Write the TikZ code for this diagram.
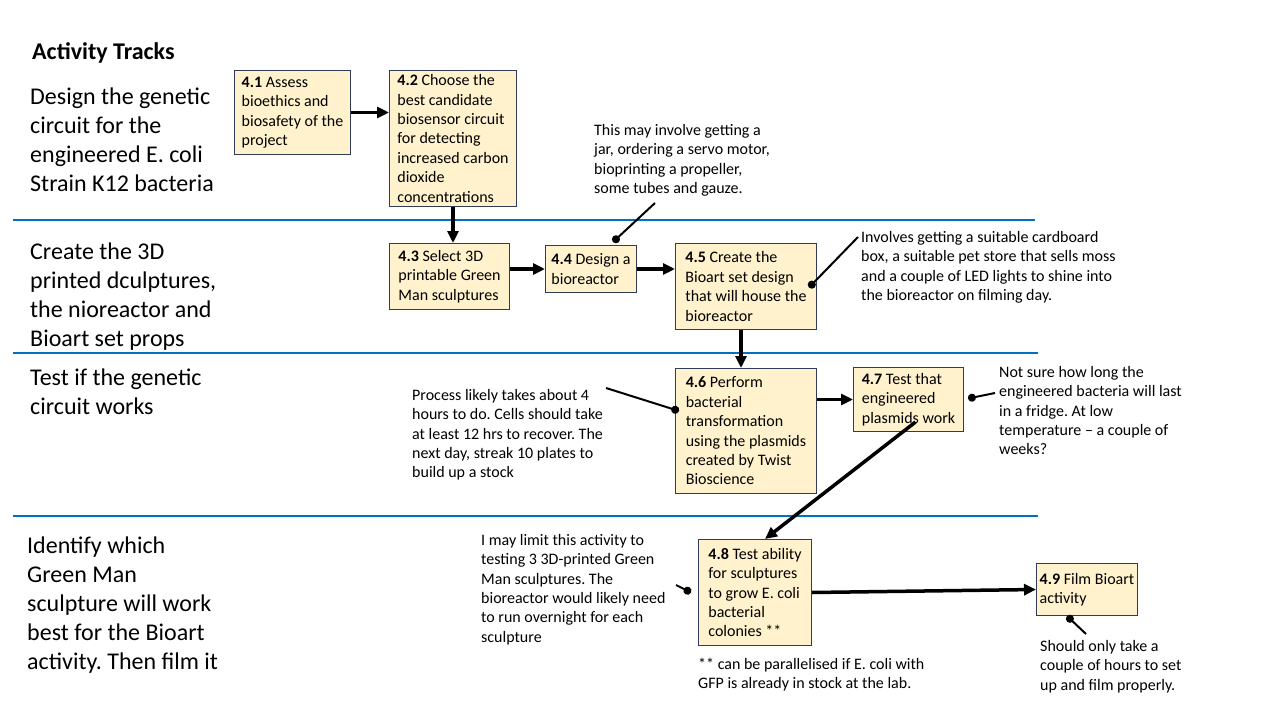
\documentclass[tikz,border=0pt]{standalone}
\usepackage{fontspec}
\setmainfont{Carlito}
\usepackage{xcolor}
\usepackage{tikz}
\usetikzlibrary{calc}
\usetikzlibrary{arrows.meta}
\usetikzlibrary{positioning}

\definecolor{boxfill}{HTML}{FFF2CC}
\definecolor{boxline}{HTML}{2F3B57}
\definecolor{trackline}{HTML}{0070C0}

\newcommand{\smallfont}{\fontsize{16}{19.4}\selectfont}
\newcommand{\trackfont}{\fontsize{24}{29}\selectfont}
\newcommand{\headfont}{\fontsize{24}{28}\selectfont\bfseries}
\frenchspacing

\begin{document}
\begin{tikzpicture}[
    x=1pt, y=-1pt,
    task/.style={draw=boxline, fill=boxfill, line width=1pt, align=left,
        anchor=north west, inner xsep=2pt, inner ysep=0pt, font=\smallfont},
    note/.style={align=left, anchor=north west, inner sep=0pt, font=\smallfont},
    track/.style={align=left, anchor=north west, inner sep=0pt, font=\trackfont},
    heading/.style={anchor=west, inner sep=0pt, font=\headfont},
    flow/.style={line width=3.5pt, -{Triangle[length=12pt,width=11pt]}},
    callout/.style={line width=2pt, {Circle[length=8pt]}-},
    divider/.style={line width=2.5pt, trackline}
]

    % Page
    \useasboundingbox (0,0) rectangle (1280,720);

    % Track dividers
    \draw[divider] (13,220) -- (1035,220);
    \draw[divider] (13,353) -- (1038,353);
    \draw[divider] (13,516) -- (1038,516);

    % Track labels
    \node[heading] (title) at (32,53) {Activity Tracks};
    \node[track] (t1) at (30,88) {Design the genetic\\circuit for the\\engineered E. coli\\Strain K12 bacteria};
    \node[track] (t2) at (30,243) {Create the 3D\\printed dculptures,\\the nioreactor and\\Bioart set props};
    \node[track] (t3) at (30,369) {Test if the genetic\\circuit works};
    \node[track] (t4) at (27,537) {Identify which\\Green Man\\sculpture will work\\best for the Bioart\\activity. Then film it};

    % Tasks
    \node[task, minimum width=116, minimum height=84] (b41) at (234,70)
        {\textbf{4.1} Assess\\bioethics and\\biosafety of the\\project};
    \node[task, minimum width=127, minimum height=136] (b42) at (389,70)
        {\textbf{4.2} Choose the\\best candidate\\biosensor circuit\\for detecting\\increased carbon\\dioxide\\concentrations};
    \node[task, minimum width=120, minimum height=66] (b43) at (389,243)
        {\textbf{4.3} Select 3D\\printable Green\\Man sculptures};
    \node[task, minimum width=91, minimum height=47] (b44) at (545,245)
        {\textbf{4.4} Design a\\bioreactor};
    \node[task, minimum width=141, minimum height=86] (b45) at (675,243)
        {\textbf{4.5} Create the\\Bioart set design\\that will house the\\bioreactor};
    \node[task, minimum width=141, minimum height=125] (b46) at (675,368)
        {\textbf{4.6} Perform\\bacterial\\transformation\\using the plasmids\\created by Twist\\Bioscience};
    \node[task, minimum width=110, minimum height=64] (b47) at (853,367)
        {\textbf{4.7} Test that\\engineered\\plasmids work};
    \node[task, minimum width=113, minimum height=106] (b48) at (698,539)
        {\textbf{4.8} Test ability\\for sculptures\\to grow E. coli\\bacterial\\colonies **};
    \node[task, minimum width=101, minimum height=52] (b49) at (1036,563)
        {\textbf{4.9} Film Bioart\\activity};

    % Notes
    \node[note] (n44) at (594,124) {This may involve getting a\\jar, ordering a servo motor,\\bioprinting a propeller,\\some tubes and gauze.};
    \node[note] (n45) at (861,231) {Involves getting a suitable cardboard\\box, a suitable pet store that sells moss\\and a couple of LED lights to shine into\\the bioreactor on filming day.};
    \node[note] (n46) at (412,389) {Process likely takes about 4\\hours to do. Cells should take\\at least 12 hrs to recover. The\\next day, streak 10 plates to\\build up a stock};
    \node[note] (n47) at (999,366) {Not sure how long the\\engineered bacteria will last\\in a fridge. At low\\temperature -- a couple of\\weeks?};
    \node[note] (n48) at (481,534) {I may limit this activity to\\testing 3 3D-printed Green\\Man sculptures. The\\bioreactor would likely need\\to run overnight for each\\sculpture};
    \node[note] (n48b) at (698,658) {** can be parallelised if E. coli with\\GFP is already in stock at the lab.};
    \node[note] (n49) at (1040,640) {Should only take a\\couple of hours to set\\up and film properly.};

    % Flow between tasks
    \draw[flow] (b41.east) -- (b41.east -| b42.west);
    \draw[flow] (b42.south) -- (b42.south |- b43.north);
    \draw[flow] (b44.west -| b43.east) -- (b44.west);
    \draw[flow] (b44.east) -- (b44.east -| b45.west);
    \draw[flow] ([xshift=-5pt]b45.south) -- ([xshift=-5pt]b45.south |- b46.north);
    \draw[flow] (b47.west -| b46.east) -- (b47.west);
    \draw[flow] ([xshift=7pt,yshift=10pt]b47.south) -- ([xshift=10pt]b48.north);
    \draw[flow] (b48.east) -- (b49.west);

    % Callout ends
    \coordinate (c44) at (655,203);
    \coordinate (c45) at (858,237);
    \coordinate (c46) at (606,388);
    \coordinate (c47) at (995,393);
    \coordinate (c48) at (676,585);
    \coordinate (c49) at (1086,634);

    % Callouts
    \draw[callout] ([xshift=22pt,yshift=3pt]b44.north) -- (c44);
    \draw[callout] ([xshift=-8pt,yshift=-1pt]b45.east) -- (c45);
    \draw[callout] ([xshift=4pt,yshift=20pt]b46.west) -- (c46);
    \draw[callout] ([xshift=4pt,yshift=1pt]b47.east) -- (c47);
    \draw[callout] ([xshift=-7pt]b48.west) -- (c48);
    \draw[callout] ([xshift=-20pt]b49.south) -- (c49);

\end{tikzpicture}
\end{document}
